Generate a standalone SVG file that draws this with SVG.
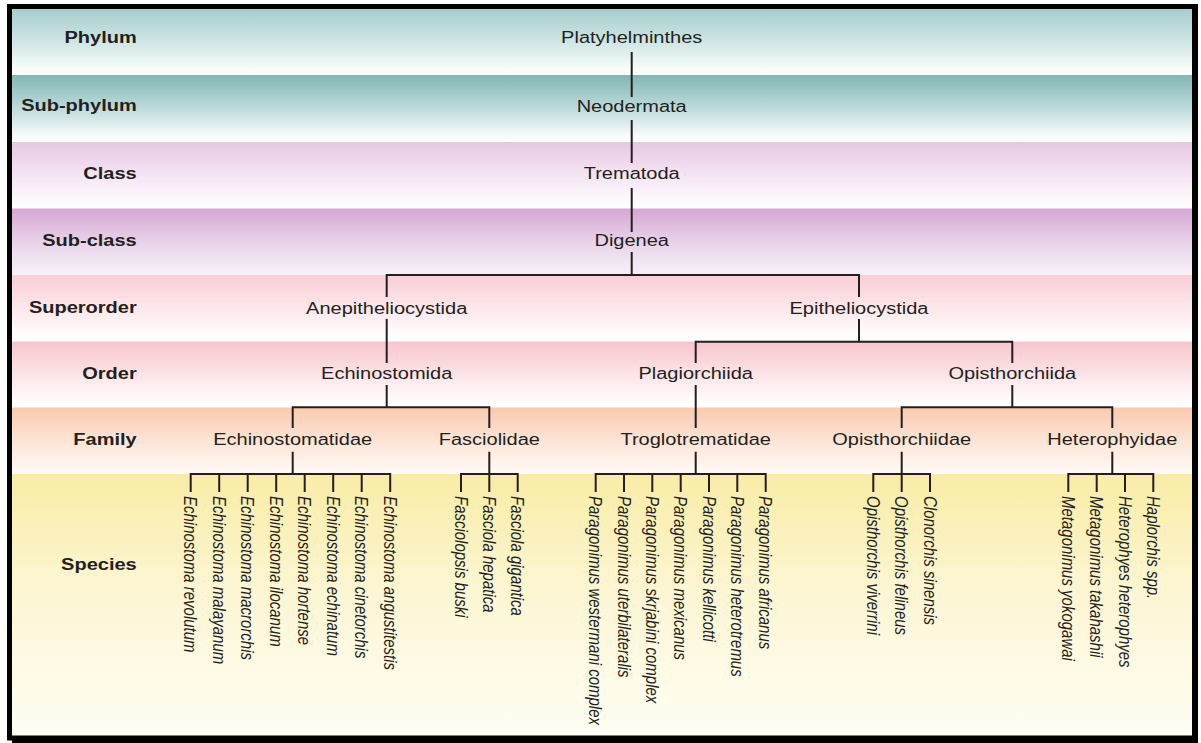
<svg xmlns="http://www.w3.org/2000/svg" width="1201" height="743" viewBox="0 0 1201 743">
<style>
.lab{font-family:"Liberation Sans",Arial,sans-serif;font-weight:bold;font-size:16px;fill:#231f20;text-anchor:end}
.tx{font-family:"Liberation Sans",Arial,sans-serif;font-size:16px;fill:#231f20;text-anchor:middle}
.sp{font-family:"Liberation Sans",Arial,sans-serif;font-style:italic;font-size:15px;fill:#231f20}
.ln{stroke:#231f20;stroke-width:2;fill:none;stroke-linecap:butt}
</style>
<defs>
<linearGradient id="gPhy" x1="0" y1="0" x2="0" y2="1"><stop offset="0" stop-color="#a6cdcd"/><stop offset="0.55" stop-color="#d4e8e7"/><stop offset="0.9" stop-color="#f8fcfb"/><stop offset="1" stop-color="#ffffff"/></linearGradient>
<linearGradient id="gSph" x1="0" y1="0" x2="0" y2="1"><stop offset="0" stop-color="#82b6b5"/><stop offset="0.5" stop-color="#bedbdb"/><stop offset="0.9" stop-color="#f6fbfa"/><stop offset="1" stop-color="#ffffff"/></linearGradient>
<linearGradient id="gCla" x1="0" y1="0" x2="0" y2="1"><stop offset="0" stop-color="#e6c7e2"/><stop offset="0.55" stop-color="#f6e8f5"/><stop offset="0.9" stop-color="#fefafe"/><stop offset="1" stop-color="#ffffff"/></linearGradient>
<linearGradient id="gScl" x1="0" y1="0" x2="0" y2="1"><stop offset="0" stop-color="#d4a7d2"/><stop offset="0.5" stop-color="#e9d2e9"/><stop offset="1" stop-color="#f7f2f8"/></linearGradient>
<linearGradient id="gSup" x1="0" y1="0" x2="0" y2="1"><stop offset="0" stop-color="#f9ced5"/><stop offset="0.55" stop-color="#fdeaed"/><stop offset="0.9" stop-color="#fffdfd"/><stop offset="1" stop-color="#ffffff"/></linearGradient>
<linearGradient id="gOrd" x1="0" y1="0" x2="0" y2="1"><stop offset="0" stop-color="#f9c5cd"/><stop offset="0.55" stop-color="#fce7ea"/><stop offset="0.9" stop-color="#fffcfc"/><stop offset="1" stop-color="#ffffff"/></linearGradient>
<linearGradient id="gFam" x1="0" y1="0" x2="0" y2="1"><stop offset="0" stop-color="#f9caaf"/><stop offset="0.55" stop-color="#fde7da"/><stop offset="1" stop-color="#fffaf7"/></linearGradient>
<linearGradient id="gSpe" x1="0" y1="0" x2="0" y2="1"><stop offset="0" stop-color="#f9eca6"/><stop offset="0.45" stop-color="#fdf6d4"/><stop offset="1" stop-color="#fffef4"/></linearGradient>
</defs>

<g id="bands">
<rect x="12" y="9" width="1181" height="66" fill="url(#gPhy)"/>
<rect x="12" y="75" width="1181" height="67" fill="url(#gSph)"/>
<rect x="12" y="142" width="1181" height="66.5" fill="url(#gCla)"/>
<rect x="12" y="208.5" width="1181" height="66.5" fill="url(#gScl)"/>
<rect x="12" y="275" width="1181" height="66.5" fill="url(#gSup)"/>
<rect x="12" y="341.5" width="1181" height="66" fill="url(#gOrd)"/>
<rect x="12" y="407.5" width="1181" height="66.5" fill="url(#gFam)"/>
<rect x="12" y="474" width="1181" height="263" fill="url(#gSpe)"/>
</g>

<g id="frame">
<path d="M1195 9 V741 H12" fill="none" stroke="#000" stroke-width="6"/>
<rect x="9.5" y="6.5" width="1186" height="731.5" fill="none" stroke="#000" stroke-width="5"/>
</g>

<g id="rank-labels">
<text class="lab" transform="translate(136.7,43) scale(1.25,1)">Phylum</text>
<text class="lab" transform="translate(136.7,111) scale(1.25,1)">Sub-phylum</text>
<text class="lab" transform="translate(136.7,179) scale(1.25,1)">Class</text>
<text class="lab" transform="translate(136.7,246) scale(1.25,1)">Sub-class</text>
<text class="lab" transform="translate(136.7,313) scale(1.25,1)">Superorder</text>
<text class="lab" transform="translate(136.7,378.5) scale(1.25,1)">Order</text>
<text class="lab" transform="translate(136.7,445) scale(1.25,1)">Family</text>
<text class="lab" transform="translate(136.7,570) scale(1.25,1)">Species</text>
</g>

<g id="connectors">
<path class="ln" d="M631.7 52 V97 M631.7 120 V163 M631.7 188 V232 M631.7 252 V275"/>
<path class="ln" d="M386.7 297 V275 H859 V297"/>
<path class="ln" d="M386.7 319 V363"/>
<path class="ln" d="M859 319 V341.7 M695.7 363 V341.7 H1012.3 V363"/>
<path class="ln" d="M386.7 385 V407.3 M292.7 428 V407.3 H489.3 V428"/>
<path class="ln" d="M695.7 385 V428"/>
<path class="ln" d="M1012.3 385 V407.3 M901.7 428 V407.3 H1112.3 V428"/>
<path class="ln" d="M292.7 451.7 V474 M190.7 492 V474 H390.2 V492 M219.2 474 V492 M247.7 474 V492 M276.2 474 V492 M304.7 474 V492 M333.2 474 V492 M361.7 474 V492"/>
<path class="ln" d="M489.3 451.7 V474 M461 492 V474 H517.7 V492 M489.3 474 V492"/>
<path class="ln" d="M695.7 451.7 V474 M595.7 492 V474 H765.7 V492 M624 474 V492 M652.3 474 V492 M680.7 474 V492 M709 474 V492 M737.3 474 V492"/>
<path class="ln" d="M901.7 451.7 V474 M873.3 492 V474 H930 V492 M901.7 474 V492"/>
<path class="ln" d="M1112.3 451.7 V474 M1068.3 492 V474 H1153.3 V492 M1096.7 474 V492 M1125 474 V492"/>
</g>

<g id="n-platyhelminthes"><text class="tx" transform="translate(631.7,43) scale(1.25,1)">Platyhelminthes</text></g>
<g id="n-neodermata"><text class="tx" transform="translate(631.7,111.5) scale(1.25,1)">Neodermata</text></g>
<g id="n-trematoda"><text class="tx" transform="translate(631.7,179) scale(1.25,1)">Trematoda</text></g>
<g id="n-digenea"><text class="tx" transform="translate(631.7,246) scale(1.25,1)">Digenea</text></g>
<g id="n-anepitheliocystida"><text class="tx" transform="translate(386.7,313.5) scale(1.25,1)">Anepitheliocystida</text></g>
<g id="n-epitheliocystida"><text class="tx" transform="translate(859,313.5) scale(1.25,1)">Epitheliocystida</text></g>
<g id="n-echinostomida"><text class="tx" transform="translate(386.7,378.5) scale(1.25,1)">Echinostomida</text></g>
<g id="n-plagiorchiida"><text class="tx" transform="translate(695.7,378.5) scale(1.25,1)">Plagiorchiida</text></g>
<g id="n-opisthorchiida"><text class="tx" transform="translate(1012.3,378.5) scale(1.25,1)">Opisthorchiida</text></g>
<g id="n-echinostomatidae"><text class="tx" transform="translate(292.7,445) scale(1.25,1)">Echinostomatidae</text></g>
<g id="n-fasciolidae"><text class="tx" transform="translate(489.3,445) scale(1.25,1)">Fasciolidae</text></g>
<g id="n-troglotrematidae"><text class="tx" transform="translate(695.7,445) scale(1.25,1)">Troglotrematidae</text></g>
<g id="n-opisthorchiidae"><text class="tx" transform="translate(901.7,445) scale(1.25,1)">Opisthorchiidae</text></g>
<g id="n-heterophyidae"><text class="tx" transform="translate(1112.3,445) scale(1.25,1)">Heterophyidae</text></g>

<g id="n-e-revolutum"><text class="sp" transform="translate(184.2,496) scale(1.2,1) rotate(90)">Echinostoma revolutum</text></g>
<g id="n-e-malayanum"><text class="sp" transform="translate(212.7,496) scale(1.2,1) rotate(90)">Echinostoma malayanum</text></g>
<g id="n-e-macrorchis"><text class="sp" transform="translate(241.2,496) scale(1.2,1) rotate(90)">Echinostoma macrorchis</text></g>
<g id="n-e-ilocanum"><text class="sp" transform="translate(269.7,496) scale(1.2,1) rotate(90)">Echinostoma ilocanum</text></g>
<g id="n-e-hortense"><text class="sp" transform="translate(298.2,496) scale(1.2,1) rotate(90)">Echinostoma hortense</text></g>
<g id="n-e-echinatum"><text class="sp" transform="translate(326.7,496) scale(1.2,1) rotate(90)">Echinostoma echinatum</text></g>
<g id="n-e-cinetorchis"><text class="sp" transform="translate(355.2,496) scale(1.2,1) rotate(90)">Echinostoma cinetorchis</text></g>
<g id="n-e-angustitestis"><text class="sp" transform="translate(383.7,496) scale(1.2,1) rotate(90)">Echinostoma angustitestis</text></g>

<g id="n-f-buski"><text class="sp" transform="translate(454.5,496) scale(1.2,1) rotate(90)">Fasciolopsis buski</text></g>
<g id="n-f-hepatica"><text class="sp" transform="translate(482.8,496) scale(1.2,1) rotate(90)">Fasciola hepatica</text></g>
<g id="n-f-gigantica"><text class="sp" transform="translate(511.2,496) scale(1.2,1) rotate(90)">Fasciola gigantica</text></g>

<g id="n-p-westermani"><text class="sp" transform="translate(589.2,496) scale(1.2,1) rotate(90)">Paragonimus westermani complex</text></g>
<g id="n-p-uterbilateralis"><text class="sp" transform="translate(617.5,496) scale(1.2,1) rotate(90)">Paragonimus uterbilateralis</text></g>
<g id="n-p-skrjabini"><text class="sp" transform="translate(645.8,496) scale(1.2,1) rotate(90)">Paragonimus skrjabini complex</text></g>
<g id="n-p-mexicanus"><text class="sp" transform="translate(674.2,496) scale(1.2,1) rotate(90)">Paragonimus mexicanus</text></g>
<g id="n-p-kellicotti"><text class="sp" transform="translate(702.5,496) scale(1.2,1) rotate(90)">Paragonimus kellicotti</text></g>
<g id="n-p-heterotremus"><text class="sp" transform="translate(730.8,496) scale(1.2,1) rotate(90)">Paragonimus heterotremus</text></g>
<g id="n-p-africanus"><text class="sp" transform="translate(759.2,496) scale(1.2,1) rotate(90)">Paragonimus africanus</text></g>

<g id="n-o-viverrini"><text class="sp" transform="translate(866.8,496) scale(1.2,1) rotate(90)">Opisthorchis viverrini</text></g>
<g id="n-o-felineus"><text class="sp" transform="translate(895.2,496) scale(1.2,1) rotate(90)">Opisthorchis felineus</text></g>
<g id="n-c-sinensis"><text class="sp" transform="translate(923.5,496) scale(1.2,1) rotate(90)">Clonorchis sinensis</text></g>

<g id="n-m-yokogawai"><text class="sp" transform="translate(1061.8,496) scale(1.2,1) rotate(90)">Metagonimus yokogawai</text></g>
<g id="n-m-takahashii"><text class="sp" transform="translate(1090.2,496) scale(1.2,1) rotate(90)">Metagonimus takahashii</text></g>
<g id="n-h-heterophyes"><text class="sp" transform="translate(1118.5,496) scale(1.2,1) rotate(90)">Heterophyes heterophyes</text></g>
<g id="n-h-spp"><text class="sp" transform="translate(1146.8,496) scale(1.2,1) rotate(90)">Haplorchis spp.</text></g>
</svg>
